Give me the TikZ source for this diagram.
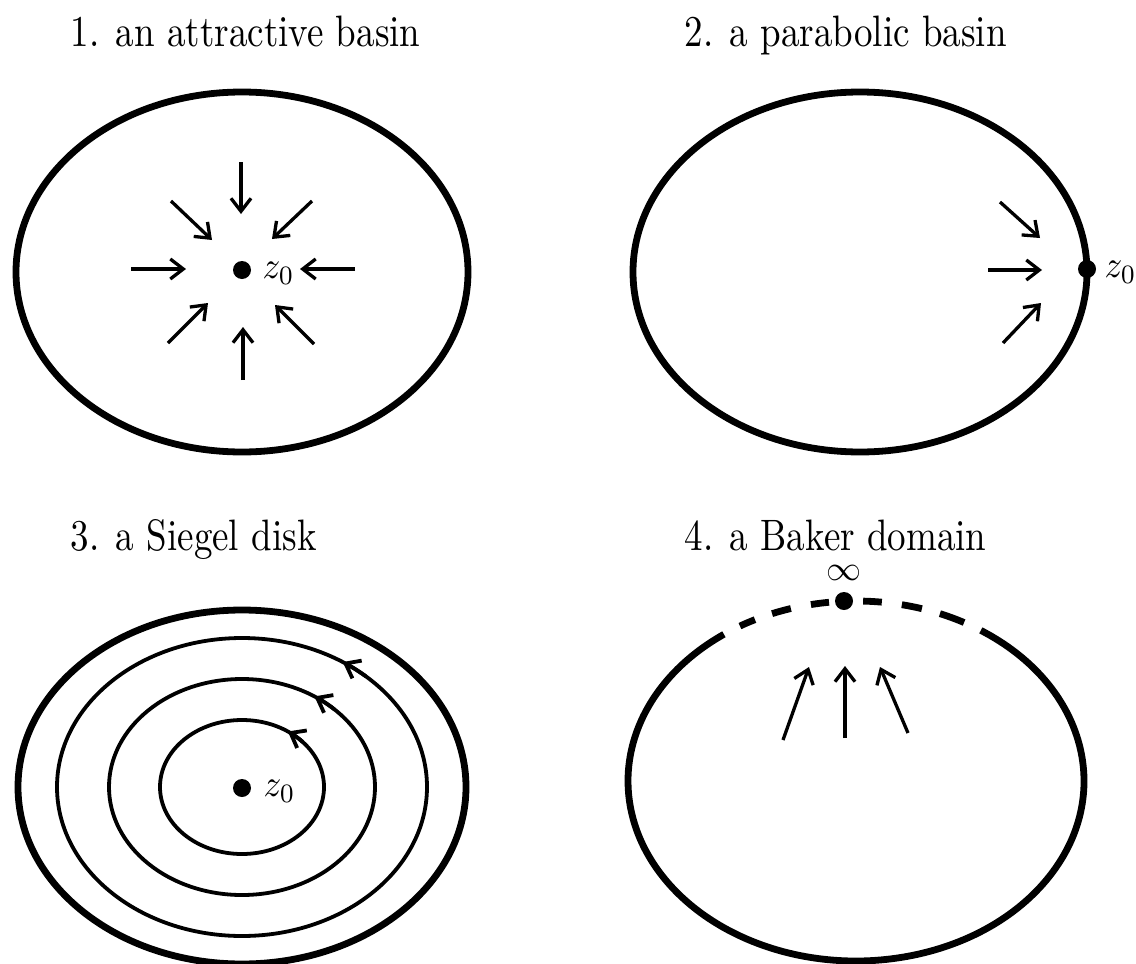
\documentclass[tikz,border=0pt]{standalone}
\usetikzlibrary{arrows.meta}
\begin{document}
\begin{tikzpicture}[x=1pt,y=-1pt,
  rim/.style={line width=6.8pt},
  orbit/.style={line width=3.8pt},
  flow/.style={line width=3.3pt,-{Straight Barb[length=13pt,width=20pt]}},
  orbitarrow/.style={line width=3.8pt,-{Straight Barb[length=13pt,width=20pt]}},
  fixpt/.style={circle,fill=black,inner sep=0pt,minimum size=18pt},
  title/.style={anchor=base west,xscale=3.7,yscale=4.4,inner sep=0pt},
  lab/.style={anchor=west,xscale=3.5,yscale=3.8,inner sep=0pt}]
\useasboundingbox (0,0) rectangle (1136,964);

% titles
\node[title] (t1) at (70,46) {1. an attractive basin};
\node[title] (t2) at (684,46) {2. a parabolic basin};
\node[title] (t3) at (70,550) {3. a Siegel disk};
\node[title] (t4) at (684,550) {4. a Baker domain};

% ---------- panel 1
\coordinate (c1) at (242,272);
\draw[rim] (c1) ellipse [x radius=226, y radius=180];
\node[fixpt] (z1) at (242,270) {};
\node[lab] (z1l) at (262,273) {$z_0$};
\coordinate (n1) at (241,162);  \coordinate (n2) at (241,214);
\coordinate (nw1) at (171,201); \coordinate (nw2) at (212,240);
\coordinate (ne1) at (312,201); \coordinate (ne2) at (272,239);
\coordinate (w1) at (131,269);  \coordinate (w2) at (186,269);
\coordinate (e1) at (355,269);  \coordinate (e2) at (300,269);
\coordinate (sw1) at (168,343); \coordinate (sw2) at (208,303);
\coordinate (se1) at (314,344); \coordinate (se2) at (275,305);
\coordinate (s1) at (243,380);  \coordinate (s2) at (243,327);
\foreach \a/\b in {n1/n2,nw1/nw2,ne1/ne2,w1/w2,e1/e2,sw1/sw2,se1/se2,s1/s2}
  \draw[flow] (\a) -- (\b);

% ---------- panel 2
\coordinate (c2) at (860,272);
\draw[rim] (c2) ellipse [x radius=227, y radius=180];
\node[fixpt] (z2) at (1087,269) {};
\node[lab] (z2l) at (1104,272) {$z_0$};
\coordinate (pa1) at (1000,202); \coordinate (pa2) at (1040,238);
\coordinate (pb1) at (988,270);  \coordinate (pb2) at (1042,270);
\coordinate (pc1) at (1003,343); \coordinate (pc2) at (1041,303);
\foreach \a/\b in {pa1/pa2,pb1/pb2,pc1/pc2}
  \draw[flow] (\a) -- (\b);

% ---------- panel 3
\coordinate (c3) at (242,787);
\draw[rim] (c3) ellipse [x radius=224, y radius=177];
\draw[orbit] (c3) ellipse [x radius=185, y radius=149];
\draw[orbit] (c3) ellipse [x radius=133, y radius=108];
\draw[orbit] (c3) ellipse [x radius=82, y radius=67];
\draw[orbitarrow] ([shift={(-48:185 and 149)}]c3) arc[start angle=-48, end angle=-57, x radius=185, y radius=149];
\draw[orbitarrow] ([shift={(-46:133 and 108)}]c3) arc[start angle=-46, end angle=-57, x radius=133, y radius=108];
\draw[orbitarrow] ([shift={(-42:82 and 67)}]c3) arc[start angle=-42, end angle=-56, x radius=82, y radius=67];
\node[fixpt] (z3) at (242,788) {};
\node[lab] (z3l) at (263,791) {$z_0$};

% ---------- panel 4
\coordinate (c4) at (856,781);
\draw[rim] ([shift={(303.2:228 and 180)}]c4) arc[start angle=303.2, end angle=594.6, x radius=228, y radius=180];
\foreach \a/\b in {239.4/243.7, 248.4/253.4, 258.6/263.2, 271.8/276.5, 281.6/286.8, 291.6/298.3}
  \draw[rim] ([shift={(\a:228 and 180)}]c4) arc[start angle=\a, end angle=\b, x radius=228, y radius=180];
\node[fixpt] (inf) at (844,601) {};
\node[scale=3.5,inner sep=0pt] (infl) at (844,573) {$\infty$};
\coordinate (ba1) at (783,740); \coordinate (ba2) at (809,667);
\coordinate (bb1) at (845,738); \coordinate (bb2) at (845,666);
\coordinate (bc1) at (908,733); \coordinate (bc2) at (880,667);
\foreach \a/\b in {ba1/ba2,bb1/bb2,bc1/bc2}
  \draw[flow] (\a) -- (\b);
\end{tikzpicture}
\end{document}
